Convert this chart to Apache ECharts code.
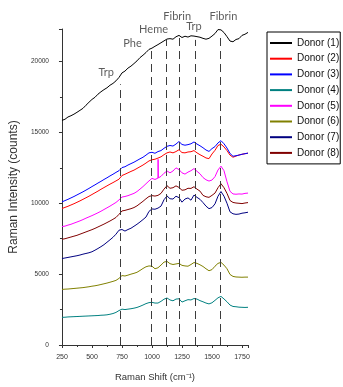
<!DOCTYPE html>
<html>
<head>
<meta charset="utf-8">
<script src="https://cdn.jsdelivr.net/npm/echarts@6/dist/echarts.min.js"></script>
<style>
  html, body { margin: 0; padding: 0; background: #fff; }
  #chart { width: 343px; height: 387px; }
</style>
</head>
<body>
<div id="chart"></div>
<script>
// Raman shift grid (cm^-1), shared by every spectrum
const shift = [
  250, 275, 300, 325, 350, 375, 400, 425, 450, 475,
  500, 525, 550, 575, 600, 625, 650, 675, 700, 725,
  750, 775, 800, 825, 850, 875, 900, 925, 950, 975,
  1000, 1025, 1050, 1075, 1100, 1125, 1150, 1175, 1200, 1225,
  1250, 1275, 1300, 1325, 1350, 1375, 1400, 1425, 1450, 1475,
  1500, 1525, 1550, 1575, 1600, 1625, 1650, 1675, 1700, 1725,
  1750, 1775, 1800
];

// Raman intensity (counts) per donor
const donor1 = [
  15850, 15930, 16090, 16180, 16290, 16420, 16560, 16700, 16920, 17130,
  17330, 17480, 17700, 17870, 18020, 18150, 18330, 18460, 18640, 18880,
  19200, 19330, 19540, 19680, 19860, 20050, 20280, 20450, 20640, 20860,
  20950, 21080, 21200, 21330, 21460, 21590, 21620, 21580, 21750, 21850,
  21700, 21790, 21730, 21820, 21800, 21760, 21720, 21640, 21580, 21640,
  21800, 21980, 22260, 22240, 22050, 21760, 21450, 21400, 21560, 21620,
  21850, 21930, 22060
];
const donor2 = [
  9630, 9710, 9790, 9880, 9970, 10070, 10170, 10280, 10390, 10500,
  10620, 10740, 10860, 10990, 11110, 11230, 11350, 11460, 11580, 11700,
  11960, 12050, 12150, 12250, 12340, 12460, 12580, 12700, 12840, 12990,
  13070, 13110, 13190, 13280, 13430, 13560, 13620, 13560, 13650, 13780,
  13580, 13560, 13620, 13640, 13720, 13560, 13430, 13320, 13200, 13150,
  13480, 13740, 14080, 14170, 13980, 13720, 13400, 13250, 13330, 13410,
  13460, 13500, 13540
];
const donor3 = [
  10100, 10190, 10280, 10380, 10480, 10590, 10700, 10810, 10930, 11050,
  11180, 11300, 11430, 11550, 11680, 11800, 11930, 12050, 12180, 12300,
  12520, 12580, 12700, 12800, 12900, 13020, 13140, 13250, 13400, 13560,
  13600, 13530, 13650, 13720, 13880, 14020, 14080, 14040, 14180, 14360,
  14150, 14100, 14140, 14200, 14330, 14180, 14060, 13920, 13760, 13660,
  13860, 14000, 14260, 14420, 14200, 13900, 13520, 13320, 13360, 13400,
  13460, 13500, 13540
];
const donor4 = [
  1950, 1960, 1980, 1990, 2000, 2010, 2020, 2030, 2040, 2050,
  2060, 2070, 2080, 2100, 2110, 2130, 2170, 2220, 2300, 2430,
  2530, 2500, 2530, 2560, 2600, 2650, 2730, 2820, 2920, 2990,
  3010, 2960, 2960, 3080, 3230, 3320, 3180, 3120, 3240, 3260,
  3030, 3120, 3200, 3180, 3280, 3240, 3130, 3050, 2960, 2900,
  2980, 3150, 3330, 3430, 3250, 3050, 2820, 2720, 2700, 2670,
  2660, 2650, 2660
];
const donor5 = [
  8360, 8390, 8460, 8520, 8600, 8680, 8760, 8850, 8950, 9040,
  9130, 9230, 9330, 9440, 9560, 9680, 9800, 9930, 10060, 10240,
  10440, 10480, 10540, 10620, 10700, 10830, 11000, 11180, 11380, 11580,
  11760, 11680, 11780, 11900, 12120, 12280, 12150, 12280, 12500, 12380,
  12150, 12060, 12200, 12300, 12450, 12260, 12080, 11820, 11660, 11570,
  11640, 11880, 12350, 12620, 12300, 11520, 10850, 10660, 10640, 10660,
  10650, 10700, 10720
];
// narrow cosmic-ray spike on the Donor (5) spectrum
const donor5SpikeShift = [1051, 1053];
const donor5Spike = [13100, 11790];
const donor6 = [
  3920, 3940, 3950, 3970, 3990, 4010, 4030, 4050, 4080, 4110,
  4150, 4180, 4220, 4270, 4320, 4370, 4430, 4490, 4560, 4700,
  4900, 4870, 4930, 5000, 5060, 5130, 5260, 5400, 5520, 5580,
  5560, 5380, 5450, 5640, 5850, 5900, 5740, 5680, 5720, 5760,
  5620, 5580, 5560, 5680, 5820, 5760, 5660, 5540, 5380, 5240,
  5320, 5560, 5760, 5830, 5640, 5380, 4980, 4840, 4800, 4790,
  4780, 4790, 4790
];
const donor7 = [
  6100, 6140, 6180, 6220, 6260, 6300, 6350, 6410, 6460, 6510,
  6580, 6690, 6810, 6940, 7080, 7250, 7420, 7600, 7820, 8100,
  8150, 8040, 8150, 8240, 8380, 8520, 8680, 8850, 9030, 9430,
  9600, 9580, 9660, 9800, 10250, 10520, 10320, 10300, 10500, 10400,
  10080, 10300, 10380, 10220, 10580, 10420, 10280, 10050, 9800, 9620,
  9700, 9960, 10500, 10830, 10500, 10000, 9400, 9260, 9220, 9240,
  9300, 9330, 9370
];
const donor8 = [
  7460, 7500, 7560, 7620, 7680, 7740, 7820, 7900, 7980, 8060,
  8140, 8230, 8330, 8430, 8530, 8640, 8750, 8870, 9000, 9220,
  9460, 9500, 9560, 9620, 9700, 9820, 9980, 10140, 10320, 10480,
  10540, 10510, 10560, 10700, 11000, 11240, 11060, 11100, 11230, 11120,
  10920, 10950, 11060, 11050, 11170, 11000, 10860, 10560, 10460, 10420,
  10560, 10720, 11100, 11380, 11100, 10700, 10200, 10060, 10020, 10000,
  9980, 10020, 10050
];

const donorNames = ['Donor (1)', 'Donor (2)', 'Donor (3)', 'Donor (4)',
                    'Donor (5)', 'Donor (6)', 'Donor (7)', 'Donor (8)'];
const donorColors = ['#000000', '#ff0000', '#0000ff', '#008080',
                     '#ff00ff', '#808000', '#000080', '#800000'];

// band assignments: dashed guide position, guide top, label anchor
const bandNames = ['Trp', 'Phe', 'Heme', 'Fibrin', 'Trp', 'Fibrin'];
const bandShift = [738, 992, 1122, 1228, 1360, 1570];
const bandTop = [18400, 20830, 21530, 21670, 21530, 22000];
const bandLabelShift = [619, 837, 1013, 1210, 1349, 1595];
const bandLabelCounts = [19240, 21250, 22290, 23190, 22500, 23190];

const xTicks = { min: 250, max: 1800, interval: 250 };
const yTicks = { min: 0, max: 22300, interval: 5000 };

function pairs(xs, ys) {
  return xs.map((x, i) => [x, ys[i]]);
}

const spectra = [donor1, donor2, donor3, donor4, donor5, donor6, donor7, donor8];
const series = spectra.map((vals, k) => {
  let data = pairs(shift, vals);
  if (k === 4) {
    data = data.concat(pairs(donor5SpikeShift, donor5Spike))
               .sort((a, b) => a[0] - b[0]);
  }
  return {
    name: donorNames[k],
    type: 'line',
    data: data,
    showSymbol: false,
    symbol: 'none',
    lineStyle: { color: donorColors[k], width: 1 },
    itemStyle: { color: donorColors[k] },
    z: 2
  };
});

// dashed guides at the band positions
series.push({
  name: 'bands',
  type: 'line',
  data: [],
  z: 5,
  markLine: {
    silent: true,
    symbol: ['none', 'none'],
    label: { show: false },
    lineStyle: { color: '#3c3c3c', width: 1, type: [8, 5] },
    data: bandShift.map((x, i) => [
      { coord: [x, 0] },
      { coord: [x, bandTop[i]] }
    ])
  }
});

// band names above the spectra
series.push({
  name: 'bandLabels',
  type: 'scatter',
  clip: false,
  symbolSize: 0,
  data: bandLabelShift.map((x, i) => ({ value: [x, bandLabelCounts[i]], name: bandNames[i] })),
  label: {
    show: true,
    position: 'inside',
    formatter: p => p.name,
    fontFamily: 'Lato',
    fontSize: 11,
    color: '#333'
  },
  z: 6
});

const plain = v => String(v);

const chart = echarts.init(document.getElementById('chart'), null, { renderer: 'canvas' });
chart.setOption({
  animation: false,
  backgroundColor: '#ffffff',
  textStyle: { fontFamily: 'Liberation Sans' },
  grid: { left: 59, right: 95, top: 29, bottom: 37, containLabel: false },
  legend: {
    data: donorNames,
    orient: 'vertical',
    left: 267,
    top: 32,
    icon: 'rect',
    itemWidth: 22,
    itemHeight: 2,
    itemGap: 3.7,
    padding: [5, 1, 5, 3],
    borderColor: '#000',
    borderWidth: 1,
    textStyle: { fontSize: 10, color: '#111', lineHeight: 12, fontFamily: 'Liberation Sans' }
  },
  xAxis: {
    type: 'value',
    min: xTicks.min,
    max: xTicks.max,
    interval: xTicks.interval,
    name: 'Raman Shift (cm⁻¹)',
    nameLocation: 'middle',
    nameGap: 27,
    nameTextStyle: { fontSize: 9.5, color: '#333' },
    axisLine: { show: true, lineStyle: { color: '#333', width: 1 } },
    axisTick: { show: true, length: 3, lineStyle: { color: '#333' } },
    minorTick: { show: true, splitNumber: 2, length: 2, lineStyle: { color: '#333' } },
    splitLine: { show: false },
    axisLabel: { fontSize: 7, color: '#333', margin: 9, showMaxLabel: false, formatter: plain }
  },
  yAxis: {
    type: 'value',
    min: yTicks.min,
    max: yTicks.max,
    interval: yTicks.interval,
    name: 'Raman Intensity (counts)',
    nameLocation: 'middle',
    nameGap: 39,
    nameTextStyle: { fontSize: 12, color: '#333' },
    axisLine: { show: true, lineStyle: { color: '#333', width: 1 } },
    axisTick: { show: true, length: 3, lineStyle: { color: '#333' } },
    minorTick: { show: true, splitNumber: 2, length: 2, lineStyle: { color: '#333' } },
    splitLine: { show: false },
    axisLabel: { fontSize: 6.5, color: '#333', margin: 13, showMaxLabel: false, formatter: plain }
  },
  series: series
});
</script>
</body>
</html>
